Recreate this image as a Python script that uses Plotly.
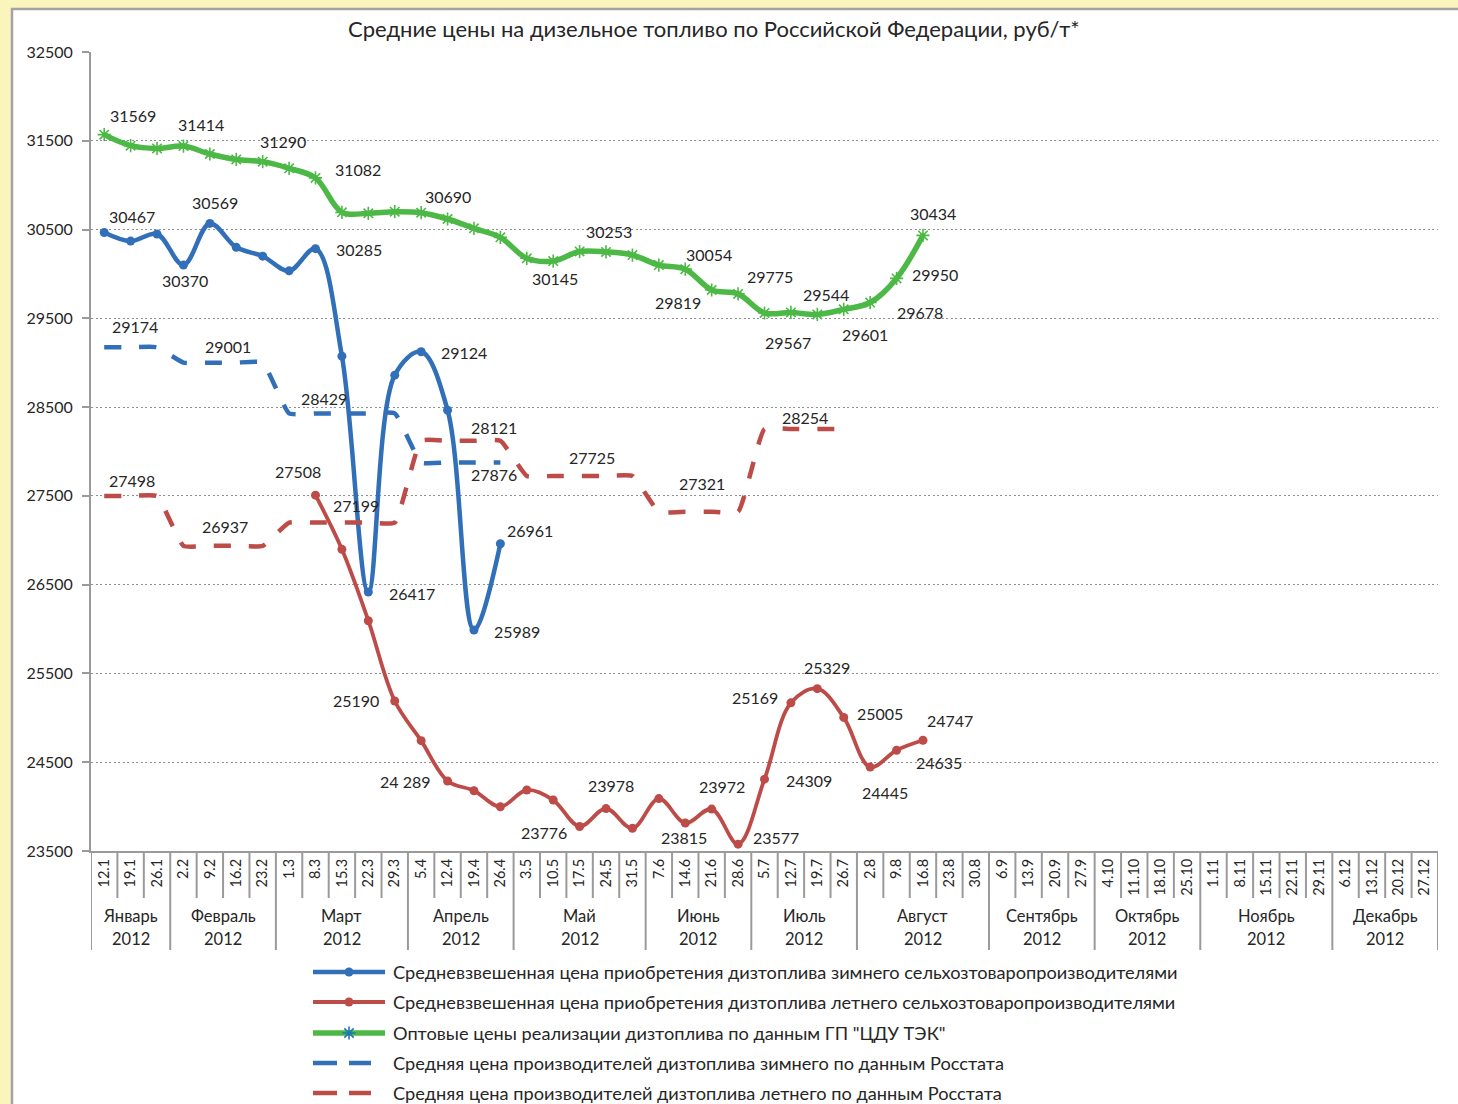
import plotly.graph_objects as go

# ---------------------------------------------------------------- data
weeks = ["12.1", "19.1", "26.1", "2.2", "9.2", "16.2", "23.2", "1.3", "8.3", "15.3",
         "22.3", "29.3", "5.4", "12.4", "19.4", "26.4", "3.5", "10.5", "17.5", "24.5",
         "31.5", "7.6", "14.6", "21.6", "28.6", "5.7", "12.7", "19.7", "26.7", "2.8",
         "9.8", "16.8", "23.8", "30.8", "6.9", "13.9", "20.9", "27.9", "4.10", "11.10",
         "18.10", "25.10", "1.11", "8.11", "15.11", "22.11", "29.11", "6.12", "13.12",
         "20.12", "27.12"]
months = ["Январь", "Февраль", "Март", "Апрель", "Май", "Июнь", "Июль", "Август",
          "Сентябрь", "Октябрь", "Ноябрь", "Декабрь"]
weeks_per_month = [3, 4, 5, 4, 5, 4, 4, 5, 4, 4, 5, 4]
year = "2012"

# weighted purchase price, winter diesel (from 12.1)
winter_farm = [30467, 30370, 30450, 30100, 30569, 30300, 30200, 30035, 30285, 29074,
               26417, 28860, 29124, 28466, 25989, 26961]
winter_farm_start = 0
# weighted purchase price, summer diesel (from 8.3)
summer_farm = [27508, 26898, 26094, 25190, 24743, 24289, 24179, 23999, 24187, 24074,
               23776, 23978, 23755, 24090, 23815, 23972, 23577, 24309, 25169, 25329,
               25005, 24445, 24635, 24747]
summer_farm_start = 8
# wholesale prices, CDU TEK (from 12.1)
wholesale = [31569, 31445, 31414, 31440, 31351, 31290, 31265, 31190, 31082, 30694,
             30683, 30701, 30690, 30619, 30514, 30412, 30176, 30145, 30253, 30248,
             30213, 30100, 30054, 29819, 29775, 29560, 29567, 29544, 29601, 29678,
             29950, 30434]
wholesale_start = 0
# Rosstat producer prices, monthly value repeated per week
rosstat_winter = [29174, 29174, 29174, 29001, 29001, 29001, 29001, 28429, 28429, 28429,
                  28429, 28429, 27876, 27876, 27876, 27876]
rosstat_winter_start = 0
rosstat_summer = [27498, 27498, 27498, 26937, 26937, 26937, 26937, 27199, 27199, 27199,
                  27199, 27199, 28121, 28121, 28121, 28121, 27725, 27725, 27725, 27725,
                  27725, 27321, 27321, 27321, 27321, 28254, 28254, 28254, 28254]
rosstat_summer_start = 0

names = [
    "Средневзвешенная цена приобретения дизтоплива зимнего сельхозтоваропроизводителями",
    "Средневзвешенная цена приобретения дизтоплива летнего сельхозтоваропроизводителями",
    "Оптовые цены реализации дизтоплива по данным ГП \"ЦДУ ТЭК\"",
    "Средняя цена производителей дизтоплива зимнего по данным Росстата",
    "Средняя цена производителей дизтоплива летнего по данным Росстата",
]
title = "Средние цены на дизельное топливо по Российской Федерации, руб/т*"

# ---------------------------------------------------------------- style
W, H = 1458, 1104
PLOT_L, PLOT_R, PLOT_T, PLOT_B = 91, 1438, 52, 851
FONT = "Lato, 'Noto Sans', sans-serif"
TXT = "#262626"
BLUE, RED, GREEN = "#3170b9", "#bd4b48", "#4cb845"
AXIS = "#9a9a9a"


def px_x(v):
    """Figure pixel column -> paper fraction (margins are zero)."""
    return v / W


def px_y(v):
    """Figure pixel row (from top) -> paper fraction."""
    return 1 - v / H


series = {
    "wf": dict(vals=winter_farm, start=winter_farm_start),
    "sf": dict(vals=summer_farm, start=summer_farm_start),
    "ws": dict(vals=wholesale, start=wholesale_start),
    "rw": dict(vals=rosstat_winter, start=rosstat_winter_start),
    "rs": dict(vals=rosstat_summer, start=rosstat_summer_start),
}
styles = {
    "wf": dict(line=dict(color=BLUE, width=4.5, shape="spline"),
               marker=dict(symbol="circle", size=9, color=BLUE), mode="lines+markers"),
    "sf": dict(line=dict(color=RED, width=3.8, shape="spline"),
               marker=dict(symbol="circle", size=9, color=RED), mode="lines+markers"),
    "ws": dict(line=dict(color=GREEN, width=5.5, shape="spline"),
               marker=dict(symbol="asterisk-open", size=11,
                           line=dict(color=GREEN, width=1.6)), mode="lines+markers"),
    "rw": dict(line=dict(color=BLUE, width=4.5, shape="spline", smoothing=0.4,
                         dash="17px,18px", simplify=False),
               mode="lines"),
    "rs": dict(line=dict(color=RED, width=4.5, shape="spline", smoothing=0.4,
                         dash="17px,18px", simplify=False),
               mode="lines"),
}
order = ["wf", "sf", "ws", "rw", "rs"]

fig = go.Figure()
for key in order:
    s = series[key]
    xs = weeks[s["start"]:s["start"] + len(s["vals"])]
    fig.add_trace(go.Scatter(x=xs, y=s["vals"], showlegend=False, hoverinfo="skip",
                             xaxis="x", yaxis="y", **styles[key]))

# data labels: (series, week index, x offset px, y offset px down)
label_pos = [
    ("ws", 0, 29, -19), ("ws", 2, 44, -24), ("ws", 5, 47, -18), ("ws", 8, 42, -8),
    ("ws", 12, 27, -16), ("ws", 17, 2, 17), ("ws", 18, 29, -20), ("ws", 22, 24, -15),
    ("ws", 23, -34, 12), ("ws", 24, 32, -17), ("ws", 26, -3, 30), ("ws", 27, 9, -20),
    ("ws", 28, 21, 25), ("ws", 29, 50, 10), ("ws", 30, 38, -4), ("ws", 31, 10, -22),
    ("wf", 0, 28, -16), ("wf", 1, 54, 39), ("wf", 4, 5, -21), ("wf", 8, 43, 1),
    ("wf", 10, 44, 1), ("wf", 12, 43, 1), ("wf", 14, 43, 1), ("wf", 15, 30, -13),
    ("rw", 0, 31, -21), ("rw", 4, 18, -16), ("rw", 8, 8, -15), ("rw", 14, 20, 12),
    ("rs", 0, 28, -16), ("rs", 4, 15, -19), ("rs", 9, 14, -17), ("rs", 14, 20, -13),
    ("rs", 18, 12, -18), ("rs", 22, 17, -28), ("rs", 26, 14, -11),
    ("sf", 8, -18, -24), ("sf", 11, -39, 0), ("sf", 13, -42, 1), ("sf", 18, -36, 6),
    ("sf", 19, 5, -23), ("sf", 22, -1, 14), ("sf", 23, 10, -23), ("sf", 24, 38, -7),
    ("sf", 25, 44, 1), ("sf", 26, -36, -5), ("sf", 27, 10, -21), ("sf", 28, 36, -4),
    ("sf", 29, 15, 25), ("sf", 30, 42, 12), ("sf", 31, 27, -20),
]
spaced_labels = {("sf", 13)}

annotations = []
for key, wi, dx, dy in label_pos:
    s = series[key]
    v = s["vals"][wi - s["start"]]
    text = f"{v:,}".replace(",", " ") if (key, wi) in spaced_labels else str(v)
    annotations.append(dict(x=wi, y=v, xref="x", yref="y", text=text,
                            showarrow=False, xshift=dx, yshift=-dy,
                            xanchor="center", yanchor="middle",
                            font=dict(family=FONT, size=16, color=TXT)))

shapes = []
# chart frame (white panel with grey border on the yellow page)
shapes.append(dict(type="rect", xref="paper", yref="paper",
                   x0=px_x(12), y0=px_y(H + 20), x1=px_x(W + 20), y1=px_y(9),
                   fillcolor="white", line=dict(color="#a3a3a3", width=2.5), layer="below"))

# category separators; month boundaries run further down
bounds = [-0.5]
for n in weeks_per_month:
    bounds.append(bounds[-1] + n)
month_edges = set(bounds)
for k in range(len(weeks) + 1):
    xb = k - 0.5
    long_edge = xb in month_edges
    shapes.append(dict(type="line", xref="x", yref="paper", x0=xb, x1=xb,
                       y0=px_y(PLOT_B), y1=px_y(950 if long_edge else 898),
                       line=dict(color=AXIS, width=2)))
for i, m in enumerate(months):
    center = (bounds[i] + bounds[i + 1]) / 2
    annotations.append(dict(x=center, y=px_y(916), xref="x", yref="paper", text=m,
                            showarrow=False, yanchor="middle",
                            font=dict(family=FONT, size=16.5, color=TXT)))
    annotations.append(dict(x=center, y=px_y(939), xref="x", yref="paper", text=year,
                            showarrow=False, yanchor="middle",
                            font=dict(family=FONT, size=16.5, color=TXT)))

# title
annotations.append(dict(x=px_x(714), y=px_y(29), xref="paper", yref="paper", text=title,
                        showarrow=False, yanchor="middle",
                        font=dict(family=FONT, size=22, color=TXT)))

# legend: sample lines on a full-figure pixel axis pair, texts in paper space
legend_rows = [972, 1002, 1033, 1063, 1093]
for key, name, ry in zip(order, names, legend_rows):
    st = styles[key]
    if key in ("rw", "rs"):
        fig.add_trace(go.Scatter(x=[313, 371], y=[ry, ry], mode="lines",
                                 line=dict(color=st["line"]["color"], width=4.5,
                                           dash="24px,12px"),
                                 xaxis="x2", yaxis="y2", showlegend=False, hoverinfo="skip"))
    else:
        fig.add_trace(go.Scatter(x=[313, 385], y=[ry, ry], mode="lines",
                                 line=dict(color=st["line"]["color"], width=st["line"]["width"]),
                                 xaxis="x2", yaxis="y2", showlegend=False, hoverinfo="skip"))
        fig.add_trace(go.Scatter(x=[349], y=[ry], mode="markers", marker=st["marker"],
                                 xaxis="x2", yaxis="y2", showlegend=False, hoverinfo="skip"))
    annotations.append(dict(x=px_x(391), y=px_y(ry), xref="paper", yref="paper", text=name,
                            showarrow=False, xanchor="left", yanchor="middle",
                            font=dict(family=FONT, size=18.2, color=TXT)))

fig.update_layout(
    template="none",
    width=W, height=H,
    margin=dict(l=0, r=0, t=0, b=0, pad=0, autoexpand=False),
    paper_bgcolor="#f9f5bd",
    plot_bgcolor="rgba(0,0,0,0)",
    showlegend=False,
    xaxis=dict(domain=[PLOT_L / W, PLOT_R / W], type="category", categoryarray=weeks,
               categoryorder="array", range=[-0.5, len(weeks) - 0.5],
               tickmode="array", tickvals=list(range(len(weeks))), ticktext=weeks,
               tickangle=-90,
               tickfont=dict(family=FONT, size=14.5, color=TXT), ticks="",
               showgrid=False, showline=True, linecolor=AXIS, linewidth=2,
               zeroline=False, anchor="y", fixedrange=True, automargin=False),
    yaxis=dict(domain=[(H - PLOT_B) / H, (H - PLOT_T) / H], range=[23500, 32500],
               tickvals=list(range(23500, 32501, 1000)), tickformat="d",
               tickfont=dict(family=FONT, size=16, color=TXT),
               ticks="outside", ticklen=7, tickcolor=AXIS, tickwidth=2,
               ticklabelstandoff=6,
               showgrid=True, gridcolor="#8f8f8f", gridwidth=1.3, griddash="2px,2.5px",
               showline=True, linecolor=AXIS, linewidth=2, zeroline=False,
               anchor="x", fixedrange=True, automargin=False),
    xaxis2=dict(domain=[0, 1], range=[0, W], visible=False, anchor="y2",
                fixedrange=True, automargin=False),
    yaxis2=dict(domain=[0, 1], range=[H, 0], visible=False, anchor="x2",
                fixedrange=True, automargin=False),
    shapes=shapes,
    annotations=annotations,
)

fig.write_html("out.html")
